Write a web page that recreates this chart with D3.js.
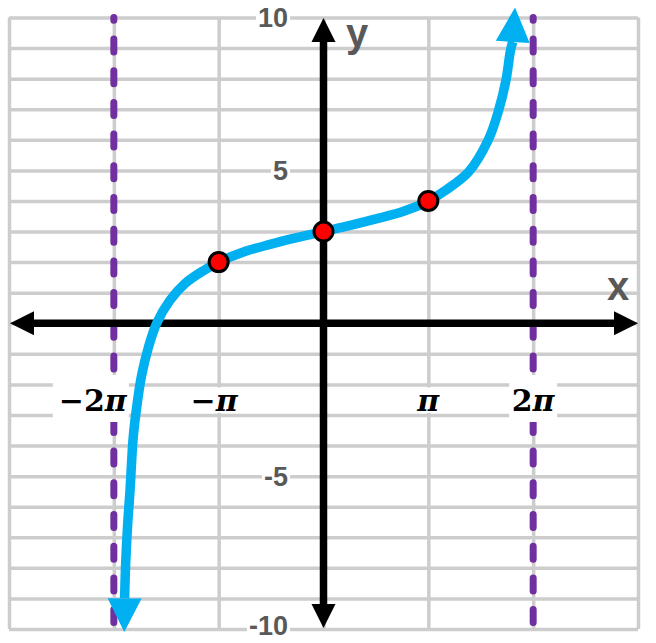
<!DOCTYPE html>
<html><head><meta charset="utf-8">
<script src="https://cdn.jsdelivr.net/npm/d3@7"></script>
<style>html,body{margin:0;padding:0;background:#fff;}svg{display:block;}</style>
</head><body>
<svg id="chart" width="656" height="643"></svg>
<script>
const PI = Math.PI;
// ---- data ----
const gridXValues = [-3*PI, -2*PI, -PI, 0, PI, 2*PI, 3*PI];
const gridYValues = d3.range(-10, 11, 1);
const xTickValues = [-2*PI, -PI, PI, 2*PI];
const xTickLabels = ["\u22122\u03C0", "\u2212\u03C0", "\u03C0", "2\u03C0"];
const yTickValues = [10, 5, -5, -10];
const yTickLabels = ["10", "5", "-5", "-10"];
const asymptotes = [-2*PI, 2*PI];
const keyPoints = [[-PI, 2], [0, 3], [PI, 4]];
const curveX = [-5.96,-5.93,-5.87,-5.80,-5.70,-5.58,-5.45,-5.25,-5.00,-4.60,-4.15,-3.60,-3.14,-2.40,-1.60,-0.80,0,0.80,1.60,2.40,3.14,3.70,4.35,4.94,5.25,5.47,5.60,5.67];
const curveY = [-9.0,-7.9,-6.6,-5.5,-3.7,-2.6,-1.7,-0.8,0,0.75,1.3,1.72,2.0,2.33,2.58,2.8,3,3.2,3.42,3.66,4.0,4.38,4.95,6.0,6.97,7.96,8.9,9.2];
const curveTips = [[-5.97,-10.1],[5.74,10.33]];
const axisLabelX = "x", axisLabelY = "y";

// ---- layout ----
const svg = d3.select("#chart");
const x = d3.scaleLinear().domain([-3*PI, 3*PI]).range([9, 638]);
const y = d3.scaleLinear().domain([-10, 10]).range([629, 17.5]);
const gridColor = "#cdcdcd";
const sans = "'Liberation Sans', Arial, sans-serif";

svg.append("rect").attr("width",656).attr("height",643).attr("fill","#fff");

// grid via d3 axes
const gx = svg.append("g").attr("transform",`translate(0,${y(-10)})`)
  .call(d3.axisBottom(x).tickValues(gridXValues).tickSize(-(y(-10)-y(10))).tickFormat(""));
const gy = svg.append("g").attr("transform",`translate(${x(-3*PI)},0)`)
  .call(d3.axisLeft(y).tickValues(gridYValues).tickSize(-(x(3*PI)-x(-3*PI))).tickFormat(""));
[gx,gy].forEach(g=>{
  g.select(".domain").remove();
  g.selectAll(".tick line").attr("stroke",gridColor).attr("stroke-width",3.5);
});

// asymptotes
svg.append("g").selectAll("line").data(asymptotes).join("line")
  .attr("x1",d=>x(d)).attr("x2",d=>x(d))
  .attr("y1",y(10)).attr("y2",y(-10))
  .attr("stroke","#7030a0").attr("stroke-width",7)
  .attr("stroke-linecap","round")
  .attr("stroke-dasharray","13 18.7").attr("stroke-dashoffset",10.2);

// x tick labels (pi labels) with white boxes
const piBox = [
  {dx:-61, w:76, y0:375, y1:422},
  {dx:-31, w:52, y0:387.5, y1:413},
  {dx:-12, w:24, y0:387.5, y1:413},
  {dx:-24, w:48, y0:375, y1:422}
];
const piCenterOffset = [-21, -4.5, 0, 0];
const gpi = svg.append("g");
xTickValues.forEach((v,i)=>{
  const b = piBox[i];
  gpi.append("rect").attr("x",x(v)+b.dx).attr("y",b.y0).attr("width",b.w).attr("height",b.y1-b.y0).attr("fill","#fff");
  const t = gpi.append("text").attr("x",x(v)+piCenterOffset[i]).attr("y",411)
    .attr("text-anchor","middle").attr("font-family","'DejaVu Serif', 'Liberation Serif', serif")
    .attr("font-weight","bold").attr("font-size",30).attr("fill","#000");
  const lbl = xTickLabels[i];
  const head = lbl.slice(0,-1);
  if (head.length) t.append("tspan").text(head);
  t.append("tspan").attr("font-style","italic").text("\u03C0");
});

// y tick labels
const gyl = svg.append("g");
yTickValues.forEach((v,i)=>{
  const cy = Math.min(y(v), 625);
  const t = gyl.append("text").attr("x",288).attr("y",cy).attr("dy","0.36em")
    .attr("text-anchor","end").attr("font-family",sans)
    .attr("font-weight","bold").attr("font-size",27).attr("fill","#595959").text(yTickLabels[i]);
  const bb = t.node().getBBox();
  gyl.insert("rect","text").attr("x",bb.x-2).attr("y",cy-12).attr("width",bb.width+4).attr("height",24).attr("fill","#fff");
});

// axes with arrowheads
const axW = 7.5, ah = 24, aw = 12;
const ax = svg.append("g");
const x0 = x(-3*PI)+1, x1 = x(3*PI), yz = y(0);
const ytop = y(10)+0.5, ybot = y(-10)-1, xz = x(0);
ax.append("line").attr("x1",x0+ah-1).attr("x2",x1-ah+1).attr("y1",yz).attr("y2",yz).attr("stroke","#000").attr("stroke-width",axW);
ax.append("line").attr("x1",xz).attr("x2",xz).attr("y1",ytop+ah-1).attr("y2",ybot-ah+1).attr("stroke","#000").attr("stroke-width",axW);
const tri = pts => "M"+pts.map(p=>p.join(",")).join("L")+"Z";
ax.append("path").attr("d",tri([[x0,yz],[x0+ah,yz-aw],[x0+ah,yz+aw]])).attr("fill","#000");
ax.append("path").attr("d",tri([[x1,yz],[x1-ah,yz-aw],[x1-ah,yz+aw]])).attr("fill","#000");
ax.append("path").attr("d",tri([[xz,ytop],[xz-aw,ytop+ah],[xz+aw,ytop+ah]])).attr("fill","#000");
ax.append("path").attr("d",tri([[xz,ybot],[xz-aw,ybot-ah],[xz+aw,ybot-ah]])).attr("fill","#000");

// curve
const curveData = curveX.map((v,i)=>[v,curveY[i]]);
const blue = "#00b0f0";
svg.append("path").datum(curveData)
  .attr("d", d3.line().x(d=>x(d[0])).y(d=>y(d[1])).curve(d3.curveCatmullRom.alpha(0.5)))
  .attr("fill","none").attr("stroke",blue).attr("stroke-width",9.5);
// curve arrowheads
const ends = [[curveData[0], curveTips[0]], [curveData[curveData.length-1], curveTips[1]]];
ends.forEach(([base, tip])=>{
  const bx=x(base[0]), by=y(base[1]), tx=x(tip[0]), ty=y(tip[1]);
  const dx=tx-bx, dy=ty-by, L=Math.hypot(dx,dy);
  const nx=-dy/L*17, ny=dx/L*17;
  svg.append("path").attr("d",tri([[tx,ty],[bx+nx,by+ny],[bx-nx,by-ny]])).attr("fill",blue);
});

// key points
svg.append("g").selectAll("circle").data(keyPoints).join("circle")
  .attr("cx",d=>x(d[0])).attr("cy",d=>y(d[1])).attr("r",9.5)
  .attr("fill","#ff0000").attr("stroke","#000").attr("stroke-width",3);

// axis letters
svg.append("text").attr("x",346).attr("y",47).attr("font-family",sans)
  .attr("font-weight","bold").attr("font-size",40).attr("fill","#595959").text(axisLabelY);
svg.append("text").attr("x",607).attr("y",300).attr("font-family",sans)
  .attr("font-weight","bold").attr("font-size",40).attr("fill","#595959").text(axisLabelX);
</script>
</body></html>
